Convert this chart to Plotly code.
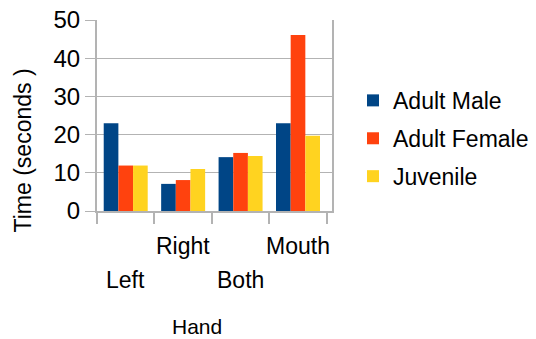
import plotly.graph_objects as go

categories = ["Left", "Right", "Both", "Mouth"]
adult_male = [23.0, 7.1, 14.1, 23.0]
adult_female = [11.9, 8.1, 15.2, 46.1]
juvenile = [11.9, 11.0, 14.4, 19.7]
series_names = ["Adult Male", "Adult Female", "Juvenile"]
series_colors = ["#004586", "#ff420e", "#ffd320"]
y_ticks = [0, 10, 20, 30, 40, 50]

FONT = "Liberation Sans"
FS = 23
GRID = "#b3b3b3"

# plot area spans 235 px of a 439 px wide paper (left margin 97, no right margin)
PAPER_W = 439.0
X_DOMAIN = [0, 235 / PAPER_W]

fig = go.Figure()
for name, vals, col in zip(series_names, [adult_male, adult_female, juvenile], series_colors):
    fig.add_trace(go.Bar(x=categories, y=vals, name=name, legendgroup=name,
                         marker=dict(color=col, line=dict(width=0))))

# staggered category labels: alternate rows
label_rows = [-0.361, -0.183, -0.361, -0.183]
for cat, yr in zip(categories, label_rows):
    fig.add_annotation(x=cat, y=yr, xref="x", yref="paper", text=cat,
                       showarrow=False, xanchor="center", yanchor="middle",
                       font=dict(family=FONT, size=FS, color="black"))

# axis titles
fig.add_annotation(x=(197 - 97) / PAPER_W, y=-0.607, xref="paper", yref="paper", text="Hand",
                   showarrow=False, xanchor="center", yanchor="middle",
                   font=dict(family=FONT, size=21, color="black"))
fig.add_annotation(x=(23 - 97) / PAPER_W, y=0.317, xref="paper", yref="paper",
                   text="Time (seconds )",
                   showarrow=False, textangle=-90, xanchor="center", yanchor="middle",
                   font=dict(family=FONT, size=FS, color="black"))

fig.update_layout(
    width=536, height=339,
    margin=dict(l=97, r=0, t=20, b=128, autoexpand=False),
    paper_bgcolor="white", plot_bgcolor="white",
    barmode="group", bargap=0.234, bargroupgap=0,
    font=dict(family=FONT, size=FS, color="black"),
    showlegend=True,
    legend=dict(x=(353 - 97) / PAPER_W, y=0.38, xref="paper", yref="paper",
                xanchor="left", yanchor="middle",
                tracegroupgap=5, font=dict(family=FONT, size=FS, color="black"),
                bgcolor="rgba(0,0,0,0)"),
    xaxis=dict(domain=X_DOMAIN, showticklabels=False, tickson="boundaries", ticks="outside",
               ticklen=11, tickcolor=GRID, tickwidth=2, showline=True, linecolor=GRID,
               linewidth=2, showgrid=False),
    yaxis=dict(range=[0, 50], tickvals=y_ticks, ticks="outside", ticklen=10, tickcolor=GRID,
               tickwidth=1, showline=True, linecolor=GRID, linewidth=2, mirror=True,
               showgrid=True, gridcolor=GRID, gridwidth=1, zeroline=False,
               tickfont=dict(family=FONT, size=24, color="black")),
)

fig.write_html("out.html")
